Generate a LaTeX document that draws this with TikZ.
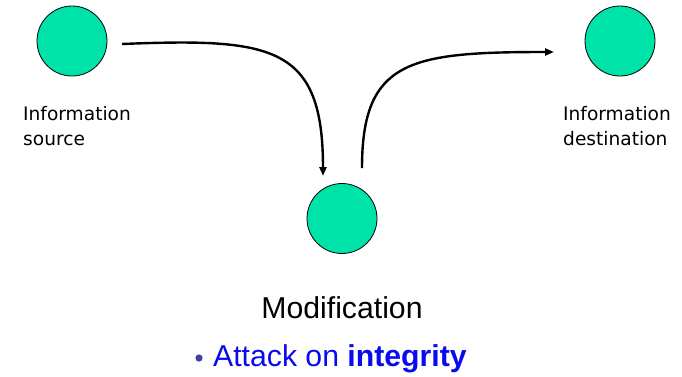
\documentclass[tikz,border=0pt]{standalone}
\usepackage{fontspec}
\setmainfont{Liberation Sans}
\newfontfamily\labelfont{DejaVu Sans}
\usetikzlibrary{arrows.meta}
\definecolor{mint}{RGB}{0,227,168}
\definecolor{txtblue}{RGB}{10,10,240}
\definecolor{bulletblue}{RGB}{64,64,160}
\tikzset{
  party/.style={circle,draw=black,line width=0.8pt,fill=mint,minimum size=70pt,inner sep=0pt},
  flow/.style={line width=2.4pt,-{Triangle[length=9pt,width=7pt]}},
  partylabel/.style={anchor=north west,inner sep=0pt,align=left,font=\labelfont\fontsize{18.6}{25}\selectfont}
}
\begin{document}
\begin{tikzpicture}[x=1pt,y=-1pt]
\useasboundingbox (0,0) rectangle (682,376);
\node[party] (src) at (72,41) {};
\node[party] (dst) at (620,41) {};
\node[party] (mod) at (342,218.5) {};
\node[partylabel] (srcl) at (23,106) {Information\\source};
\node[partylabel] (dstl) at (563,106) {Information\\destination};
\node[anchor=base,inner sep=0pt,font=\fontsize{30.2}{34}\selectfont] (modl) at (342,318) {Modification};
\node[anchor=base west,inner sep=0pt,font=\fontsize{30.2}{34}\selectfont,text=txtblue] (att) at (213,366) {Attack on \textbf{integrity}};
\fill[bulletblue] (199,358) circle (3.6pt) coordinate (bul);
\coordinate (a1s) at (122,44);
\coordinate (a1e) at (323,176);
\coordinate (a2s) at (362,168);
\coordinate (a2e) at (554,52);
\draw[flow] (a1s) .. controls (272,38) and (323,45) .. (a1e);
\draw[flow] (a2s) .. controls (362,60) and (410,52) .. (a2e);
\end{tikzpicture}
\end{document}
